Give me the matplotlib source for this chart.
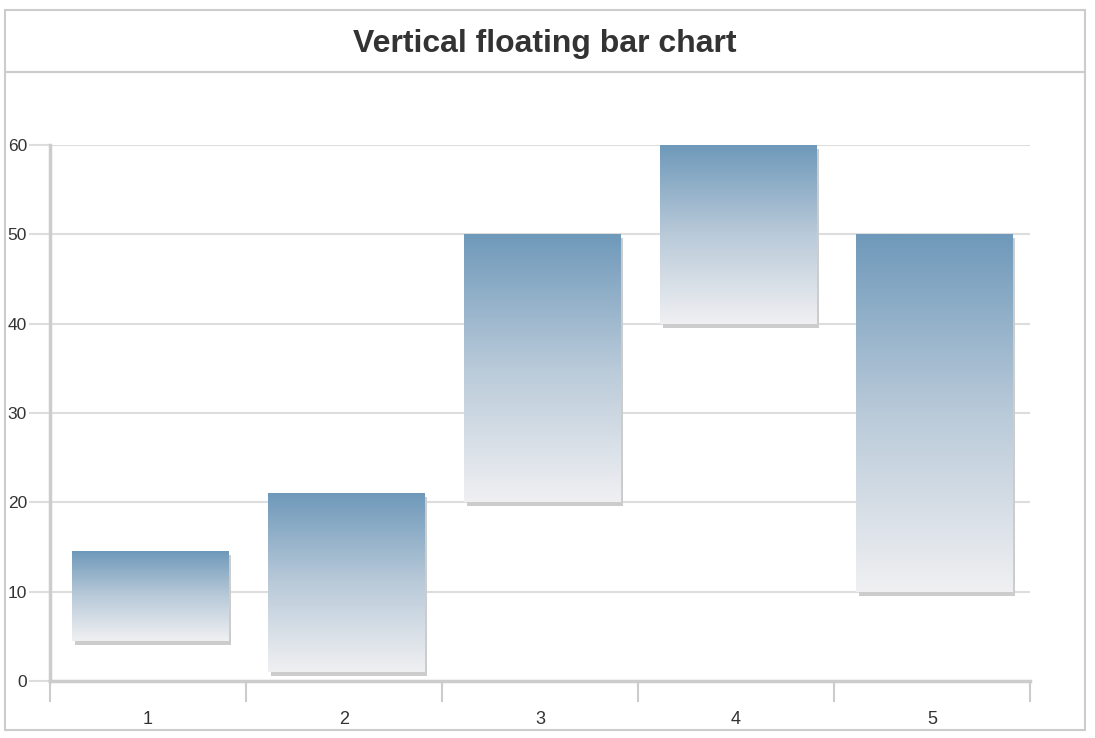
import numpy as np
import matplotlib
matplotlib.use("Agg")
import matplotlib.pyplot as plt
import matplotlib.transforms as mtransforms
from matplotlib.colors import LinearSegmentedColormap
from matplotlib.patches import Rectangle
from matplotlib.lines import Line2D

plt.rcParams['font.family'] = ['Liberation Sans', 'DejaVu Sans']

# data
categories = [1, 2, 3, 4, 5]
lows = [4.5, 1, 20, 40, 10]
highs = [14.5, 21, 50, 60, 50]
yticks = [0, 10, 20, 30, 40, 50, 60]

W, H = 1095, 738
fig = plt.figure(figsize=(W / 100, H / 100), dpi=100)
fig.patch.set_facecolor('white')

# outer frame and title band
fig.patches.append(Rectangle((5 / W, 1 - 730 / H), 1080 / W, 720 / H, transform=fig.transFigure,
                             fill=False, edgecolor='#cccccc', linewidth=1.5))
fig.lines.append(Line2D([5 / W, 1085 / W], [1 - 72 / H, 1 - 72 / H], transform=fig.transFigure,
                        color='#cccccc', linewidth=1.5))
fig.text(545 / W, 1 - 44 / H, 'Vertical floating bar chart', ha='center', va='center',
         fontsize=23, fontweight='bold', color='#333333')

ax = fig.add_axes([50 / W, 1 - 681 / H, 980 / W, 536 / H])

cmap = LinearSegmentedColormap.from_list('barfade', ['#f0f0f2', '#b9cad9', '#6f99ba'])
grad = np.linspace(1, 0, 256).reshape(-1, 1)
shadow_tr = mtransforms.offset_copy(ax.transData, fig=fig, x=3, y=-4, units='dots')

width = 0.8
for c, lo, hi in zip(categories, lows, highs):
    x0 = c - width / 2 + 0.01
    ax.add_patch(Rectangle((x0, lo), width, hi - lo, transform=shadow_tr,
                           facecolor='#cccccc', edgecolor='none', zorder=2))
    ax.imshow(grad, extent=[x0, x0 + width, lo, hi], aspect='auto',
              cmap=cmap, vmin=0, vmax=1, zorder=3, interpolation='bilinear')

ax.set_xlim(0.5, 5.5)
ax.set_ylim(0, 60)

# y axis
ax.set_yticks(yticks)
ax.yaxis.grid(True, color='#dddddd', linewidth=1.5)
ax.set_axisbelow(True)
ax.tick_params(axis='y', length=15, width=1.5, color='#dddddd', pad=1.5,
               labelsize=12.5, labelcolor='#333333')

# x axis: boundaries as ticks, labels centered
ax.set_xticks([0.5, 1.5, 2.5, 3.5, 4.5, 5.5])
ax.set_xticklabels([])
ax.set_xticks(categories, minor=True)
ax.set_xticklabels([str(c) for c in categories], minor=True)
ax.tick_params(axis='x', which='major', length=15, width=1.5, color='#cccccc')
ax.tick_params(axis='x', which='minor', length=0, pad=21.5, labelsize=13, labelcolor='#333333')

for s in ['top', 'right']:
    ax.spines[s].set_visible(False)
for s in ['left', 'bottom']:
    ax.spines[s].set_color('#cccccc')
    ax.spines[s].set_linewidth(2.5)

fig.savefig('out.png', dpi=100)
